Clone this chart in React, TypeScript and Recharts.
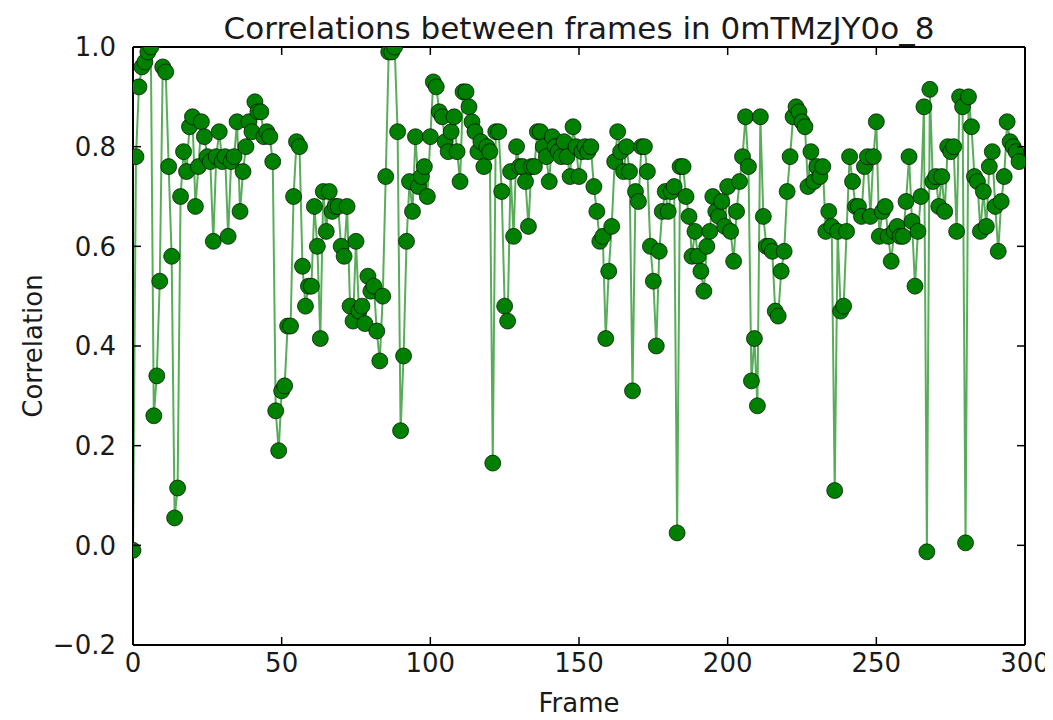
import React from 'react';
import { LineChart, Line, XAxis, YAxis, Customized } from 'recharts';

const correlations: number[] = [
  -0.01, 0.78, 0.92, 0.96, 0.97, 0.99, 1.0, 0.26, 0.34, 0.53,
  0.96, 0.95, 0.76, 0.58, 0.055, 0.115, 0.7, 0.79, 0.75, 0.84,
  0.86, 0.68, 0.76, 0.85, 0.82, 0.78, 0.77, 0.61, 0.78, 0.83,
  0.77, 0.78, 0.62, 0.77, 0.78, 0.85, 0.67, 0.75, 0.8, 0.85,
  0.83, 0.89, 0.87, 0.87, 0.82, 0.83, 0.82, 0.77, 0.27, 0.19,
  0.31, 0.32, 0.44, 0.44, 0.7, 0.81, 0.8, 0.56, 0.48, 0.52,
  0.52, 0.68, 0.6, 0.415, 0.71, 0.63, 0.71, 0.67, 0.68, 0.68,
  0.6, 0.58, 0.68, 0.48, 0.45, 0.61, 0.47, 0.48, 0.445, 0.54,
  0.51, 0.52, 0.43, 0.37, 0.5, 0.74, 0.99, 0.99, 1.0, 0.83,
  0.23, 0.38, 0.61, 0.73, 0.67, 0.82, 0.72, 0.74, 0.76, 0.7,
  0.82, 0.93, 0.92, 0.87, 0.86, 0.81, 0.79, 0.83, 0.86, 0.79,
  0.73, 0.91, 0.91, 0.88, 0.85, 0.83, 0.79, 0.81, 0.76, 0.8,
  0.79, 0.165, 0.83, 0.83, 0.71, 0.48, 0.45, 0.75, 0.62, 0.8,
  0.76, 0.76, 0.73, 0.64, 0.76, 0.76, 0.83, 0.83, 0.8, 0.78,
  0.73, 0.82, 0.8, 0.79, 0.78, 0.81, 0.78, 0.74, 0.84, 0.8,
  0.74, 0.79, 0.8, 0.79, 0.8, 0.72, 0.67, 0.61, 0.62, 0.415,
  0.55, 0.64, 0.77, 0.83, 0.79, 0.75, 0.8, 0.75, 0.31, 0.71,
  0.69, 0.8, 0.8, 0.75, 0.6, 0.53, 0.4, 0.59, 0.67, 0.71,
  0.67, 0.71, 0.72, 0.025, 0.76, 0.76, 0.7, 0.66, 0.58, 0.63,
  0.58, 0.55, 0.51, 0.6, 0.63, 0.7, 0.67, 0.66, 0.69, 0.64,
  0.72, 0.63, 0.57, 0.67, 0.73, 0.78, 0.86, 0.76, 0.33, 0.415,
  0.28, 0.86, 0.66, 0.6, 0.6, 0.59, 0.47, 0.46, 0.55, 0.59,
  0.71, 0.78, 0.86, 0.88, 0.87, 0.85, 0.84, 0.72, 0.79, 0.73,
  0.76, 0.74, 0.76, 0.63, 0.67, 0.64, 0.11, 0.63, 0.47, 0.48,
  0.63, 0.78, 0.73, 0.68, 0.68, 0.66, 0.76, 0.78, 0.66, 0.78,
  0.85, 0.62, 0.67, 0.68, 0.62, 0.57, 0.63, 0.64, 0.62, 0.62,
  0.69, 0.78, 0.65, 0.52, 0.63, 0.7, 0.88, -0.013, 0.915, 0.73,
  0.74, 0.68, 0.74, 0.67, 0.8, 0.79, 0.8, 0.63, 0.9, 0.88,
  0.005, 0.9, 0.84, 0.74, 0.73, 0.63, 0.71, 0.64, 0.76, 0.79,
  0.68, 0.59, 0.69, 0.74, 0.85, 0.81, 0.8, 0.79, 0.77,
];

const xTicks = [0, 50, 100, 150, 200, 250, 300];
const yTicks = [-0.2, 0, 0.2, 0.4, 0.6, 0.8, 1.0];
const yTickLabels = ['\u22120.2', '0.0', '0.2', '0.4', '0.6', '0.8', '1.0'];

const titleText = 'Correlations between frames in 0mTMzJY0o_8';
const xLabel = 'Frame';
const yLabel = 'Correlation';

const data = correlations.map((v, i) => ({ frame: i, corr: v }));

const FONT = 'DejaVu Sans';
const TEXT_COLOR = '#1a1a1a';
const TICK_LEN = 8;

const yLabelFor = (v: number) => {
  const idx = yTicks.findIndex((t) => Math.abs(t - v) < 1e-9);
  return idx >= 0 ? yTickLabels[idx] : String(v);
};

const BottomTick = (props: any) => {
  const { x, y, payload } = props;
  return (
    <g>
      <line x1={x} y1={y} x2={x} y2={y - TICK_LEN} stroke="#000" strokeWidth={1.5} />
      <text x={x} y={y + 27} textAnchor="middle" fontSize={26} fontFamily={FONT} fill={TEXT_COLOR}>
        {payload.value}
      </text>
    </g>
  );
};

const TopTick = (props: any) => {
  const { x, y } = props;
  return <line x1={x} y1={y} x2={x} y2={y + TICK_LEN} stroke="#000" strokeWidth={1.5} />;
};

const LeftTick = (props: any) => {
  const { x, y, payload } = props;
  return (
    <g>
      <line x1={x} y1={y} x2={x + TICK_LEN} y2={y} stroke="#000" strokeWidth={1.5} />
      <text x={x - 17} y={y} dy="0.36em" textAnchor="end" fontSize={26} fontFamily={FONT} fill={TEXT_COLOR}>
        {yLabelFor(payload.value)}
      </text>
    </g>
  );
};

const RightTick = (props: any) => {
  const { x, y } = props;
  return <line x1={x} y1={y} x2={x - TICK_LEN} y2={y} stroke="#000" strokeWidth={1.5} />;
};

const Texts = () => (
  <g>
    <text x={571} y={31} textAnchor="middle" fontSize={31} fontFamily={FONT} fill={TEXT_COLOR}>
      {titleText}
    </text>
    <text x={571} y={704} textAnchor="middle" fontSize={26} fontFamily={FONT} fill={TEXT_COLOR}>
      {xLabel}
    </text>
    <text
      x={34}
      y={338}
      textAnchor="middle"
      fontSize={26}
      fontFamily={FONT}
      fill={TEXT_COLOR}
      transform="rotate(-90 34 338)"
    >
      {yLabel}
    </text>
  </g>
);

export default function App() {
  return (
    <div style={{ width: 1045, height: 712, background: '#fff' }}>
      <LineChart
        width={1045}
        height={712}
        data={data}
        margin={{ top: 38, right: 27, bottom: 0, left: 0 }}
      >
        <XAxis
          dataKey="frame"
          type="number"
          domain={[0, 300]}
          ticks={xTicks}
          allowDataOverflow
          height={75}
          tickSize={0}
          tickMargin={0}
          tick={<BottomTick />}
          axisLine={{ stroke: '#000', strokeWidth: 2 }}
          tickLine={false}
          interval={0}
        />
        <XAxis
          xAxisId="top"
          dataKey="frame"
          orientation="top"
          type="number"
          domain={[0, 300]}
          ticks={xTicks}
          allowDataOverflow
          height={1}
          tickSize={0}
          tickMargin={0}
          tick={<TopTick />}
          axisLine={{ stroke: '#000', strokeWidth: 2 }}
          tickLine={false}
          interval={0}
        />
        <YAxis
          type="number"
          domain={[-0.2, 1.0]}
          ticks={yTicks}
          allowDataOverflow
          width={125}
          tickSize={0}
          tickMargin={0}
          tick={<LeftTick />}
          axisLine={{ stroke: '#000', strokeWidth: 2 }}
          tickLine={false}
          interval={0}
        />
        <YAxis
          yAxisId="right"
          orientation="right"
          type="number"
          domain={[-0.2, 1.0]}
          ticks={yTicks}
          allowDataOverflow
          width={1}
          tickSize={0}
          tickMargin={0}
          tick={<RightTick />}
          axisLine={{ stroke: '#000', strokeWidth: 2 }}
          tickLine={false}
          interval={0}
        />
        <Line
          xAxisId="top"
          yAxisId="right"
          dataKey="corr"
          type="linear"
          stroke="none"
          dot={false}
          activeDot={false}
          legendType="none"
          isAnimationActive={false}
        />
        <Line
          dataKey="corr"
          type="linear"
          stroke="#008000"
          strokeWidth={2}
          strokeOpacity={0.65}
          dot={{ r: 8, fill: '#008000', stroke: '#000', strokeWidth: 1, fillOpacity: 1 }}
          activeDot={false}
          isAnimationActive={false}
        />
        <Customized component={Texts} />
      </LineChart>
    </div>
  );
}
